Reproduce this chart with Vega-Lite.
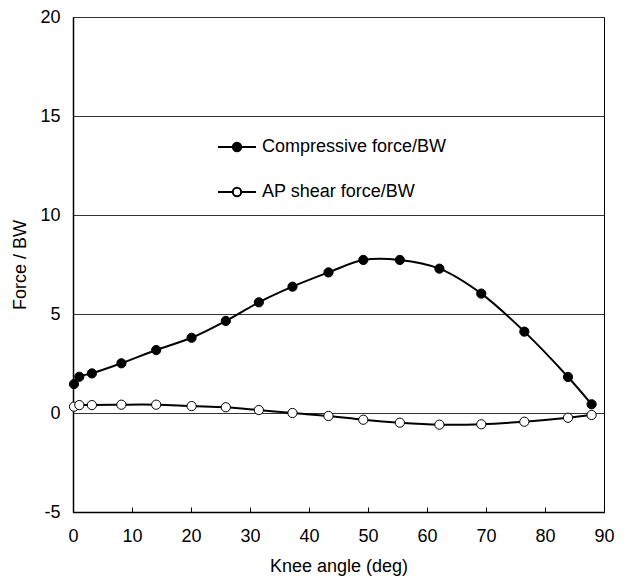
{
  "$schema": "https://vega.github.io/schema/vega-lite/v6.json",
  "width": 531,
  "height": 495,
  "autosize": {"type": "none"},
  "padding": {"left": 73, "top": 17, "right": 23, "bottom": 68},
  "background": "white",
  "config": {
    "font": "Liberation Sans",
    "view": {"stroke": "black", "strokeWidth": 1}
  },
  "data": {
    "values": [
      {"angle": 0.17, "force": 1.46, "series": "Compressive force/BW"},
      {"angle": 1.07, "force": 1.83, "series": "Compressive force/BW"},
      {"angle": 3.2, "force": 2.0, "series": "Compressive force/BW"},
      {"angle": 8.2, "force": 2.51, "series": "Compressive force/BW"},
      {"angle": 14.1, "force": 3.18, "series": "Compressive force/BW"},
      {"angle": 20.1, "force": 3.8, "series": "Compressive force/BW"},
      {"angle": 25.9, "force": 4.65, "series": "Compressive force/BW"},
      {"angle": 31.5, "force": 5.59, "series": "Compressive force/BW"},
      {"angle": 37.2, "force": 6.38, "series": "Compressive force/BW"},
      {"angle": 43.3, "force": 7.1, "series": "Compressive force/BW"},
      {"angle": 49.2, "force": 7.73, "series": "Compressive force/BW"},
      {"angle": 55.4, "force": 7.73, "series": "Compressive force/BW"},
      {"angle": 62.1, "force": 7.29, "series": "Compressive force/BW"},
      {"angle": 69.2, "force": 6.03, "series": "Compressive force/BW"},
      {"angle": 76.5, "force": 4.11, "series": "Compressive force/BW"},
      {"angle": 83.9, "force": 1.82, "series": "Compressive force/BW"},
      {"angle": 87.9, "force": 0.44, "series": "Compressive force/BW"},
      {"angle": 0.17, "force": 0.32, "series": "AP shear force/BW"},
      {"angle": 1.07, "force": 0.4, "series": "AP shear force/BW"},
      {"angle": 3.2, "force": 0.4, "series": "AP shear force/BW"},
      {"angle": 8.2, "force": 0.42, "series": "AP shear force/BW"},
      {"angle": 14.1, "force": 0.42, "series": "AP shear force/BW"},
      {"angle": 20.1, "force": 0.35, "series": "AP shear force/BW"},
      {"angle": 25.9, "force": 0.29, "series": "AP shear force/BW"},
      {"angle": 31.5, "force": 0.15, "series": "AP shear force/BW"},
      {"angle": 37.2, "force": 0.0, "series": "AP shear force/BW"},
      {"angle": 43.3, "force": -0.15, "series": "AP shear force/BW"},
      {"angle": 49.2, "force": -0.34, "series": "AP shear force/BW"},
      {"angle": 55.4, "force": -0.49, "series": "AP shear force/BW"},
      {"angle": 62.1, "force": -0.59, "series": "AP shear force/BW"},
      {"angle": 69.2, "force": -0.57, "series": "AP shear force/BW"},
      {"angle": 76.5, "force": -0.44, "series": "AP shear force/BW"},
      {"angle": 83.9, "force": -0.24, "series": "AP shear force/BW"},
      {"angle": 87.9, "force": -0.1, "series": "AP shear force/BW"}
    ]
  },
  "encoding": {
    "x": {
      "field": "angle", "type": "quantitative",
      "scale": {"domain": [0, 90], "nice": false, "zero": false},
      "axis": {
        "title": "Knee angle (deg)", "values": [0,10,20,30,40,50,60,70,80,90],
        "grid": false, "domain": true, "domainColor": "black", "domainWidth": 1.5,
        "ticks": true, "tickSize": -5, "tickColor": "black", "tickWidth": 1,
        "labelFlush": false, "labelOverlap": false,
        "labelPadding": 20, "labelFontSize": 18, "labelColor": "black", "labelFont": "Liberation Sans",
        "titleFontSize": 18, "titleFontWeight": "normal", "titleColor": "black", "titleFont": "Liberation Sans",
        "titlePadding": 12
      }
    },
    "y": {
      "field": "force", "type": "quantitative",
      "scale": {"domain": [-5, 20], "nice": false, "zero": false},
      "axis": {
        "title": "Force / BW", "values": [-5,0,5,10,15,20],
        "labelExpr": "datum.value < 0 ? '-' + abs(datum.value) : '' + datum.value",
        "grid": true, "gridColor": "#333", "gridWidth": 1,
        "domain": true, "domainColor": "black", "domainWidth": 1.5,
        "ticks": false, "labelPadding": 13, "labelFontSize": 18, "labelColor": "black", "labelFont": "Liberation Sans",
        "labelFlush": false,
        "titleFontSize": 18, "titleFontWeight": "normal", "titleColor": "black", "titleFont": "Liberation Sans",
        "titlePadding": 10
      }
    }
  },
  "layer": [
    {
      "mark": {"type": "line", "interpolate": "catmull-rom", "color": "black", "strokeWidth": 2},
      "encoding": {"detail": {"field": "series"}}
    },
    {
      "mark": {"type": "point", "filled": true, "stroke": "black", "strokeWidth": 1, "size": 85, "shape": "circle", "opacity": 1},
      "encoding": {
        "fill": {
          "field": "series", "type": "nominal",
          "scale": {"domain": ["Compressive force/BW", "AP shear force/BW"], "range": ["black", "white"]},
          "legend": {
            "title": null, "orient": "none", "legendX": 144, "legendY": 110,
            "symbolType": "M-1,0H-0.22M0.22,0H1M0.22,0A0.22,0.22 0 1,1 -0.22,0A0.22,0.22 0 1,1 0.22,0Z",
            "symbolSize": 1444, "symbolStrokeColor": "black", "symbolStrokeWidth": 2, "symbolOpacity": 1,
            "labelFontSize": 18, "labelFont": "Liberation Sans", "labelColor": "black", "labelOffset": 5,
            "rowPadding": 16, "padding": 0, "labelLimit": 300
          }
        }
      }
    }
  ]
}
